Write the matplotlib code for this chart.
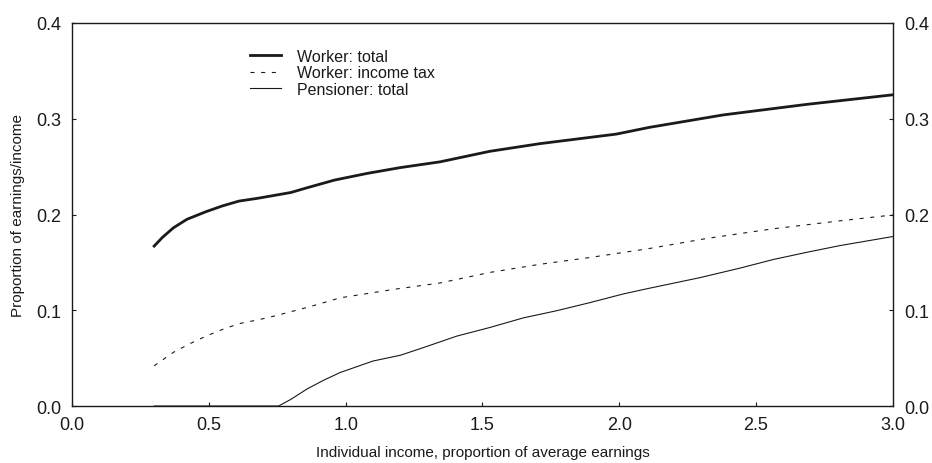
import matplotlib
matplotlib.use("Agg")
import matplotlib.pyplot as plt

plt.rcParams['font.family'] = ['Liberation Sans', 'DejaVu Sans']

# Worker: total burden (proportion of earnings)
worker_total_x = [0.30, 0.33, 0.37, 0.42, 0.49, 0.55, 0.61, 0.68, 0.74, 0.80, 0.86,
                  0.96, 1.08, 1.20, 1.345, 1.527, 1.71, 1.99, 2.11, 2.38, 2.685, 3.00]
worker_total_y = [0.167, 0.176, 0.186, 0.195, 0.203, 0.209, 0.214, 0.217, 0.220, 0.223,
                  0.228, 0.236, 0.243, 0.249, 0.255, 0.266, 0.274, 0.284, 0.291, 0.304,
                  0.315, 0.325]

# Worker: income tax only
worker_tax_x = [0.30, 0.34, 0.37, 0.43, 0.49, 0.55, 0.61, 0.68, 0.74, 0.86, 0.98,
                1.18, 1.345, 1.527, 1.71, 1.89, 2.10, 2.32, 2.56, 2.81, 3.00]
worker_tax_y = [0.042, 0.050, 0.056, 0.065, 0.073, 0.080, 0.086, 0.090, 0.094, 0.103,
                0.113, 0.122, 0.1285, 0.1395, 0.148, 0.155, 0.164, 0.175, 0.185,
                0.1935, 0.1995]

# Pensioner: total burden (proportion of income)
pensioner_x = [0.30, 0.755, 0.80, 0.86, 0.92, 0.98, 1.04, 1.10, 1.20, 1.284, 1.406,
               1.527, 1.649, 1.771, 1.893, 2.014, 2.11, 2.294, 2.441, 2.563, 2.685,
               2.806, 3.00]
pensioner_y = [0.0, 0.0, 0.007, 0.018, 0.027, 0.035, 0.041, 0.047, 0.053, 0.061, 0.073,
               0.082, 0.092, 0.0995, 0.108, 0.117, 0.123, 0.134, 0.144, 0.153, 0.1605,
               0.1675, 0.177]

x_ticks = [0.0, 0.5, 1.0, 1.5, 2.0, 2.5, 3.0]
y_ticks = [0.0, 0.1, 0.2, 0.3, 0.4]

fig = plt.figure(figsize=(9.32, 4.64), dpi=100)
ax = fig.add_axes([0.0773, 0.1228, 0.8807, 0.8255])

ink = '#1a1a1a'
ax.plot(worker_total_x, worker_total_y, color=ink, lw=2.0, label='Worker: total')
ax.plot(worker_tax_x, worker_tax_y, color=ink, lw=0.8,
        linestyle=(0, (3.6, 6.0)), label='Worker: income tax')
ax.plot(pensioner_x, pensioner_y, color=ink, lw=0.8, label='Pensioner: total')

ax.set_xlim(0, 3.0)
ax.set_ylim(0, 0.4)
ax.set_xticks(x_ticks)
ax.set_yticks(y_ticks)
ax.set_xticklabels([f'{v:.1f}' for v in x_ticks])
ax.set_yticklabels([f'{v:.1f}' for v in y_ticks])

ax.tick_params(axis='both', direction='in', length=3, width=0.8, colors=ink,
               labelsize=13)
ax.tick_params(axis='y', left=True, right=True, labelleft=True, labelright=True, pad=8)
ax.tick_params(axis='x', top=False, pad=7)

for s in ax.spines.values():
    s.set_linewidth(1.0)
    s.set_color(ink)

ax.set_xlabel('Individual income, proportion of average earnings', fontsize=11,
              color=ink, labelpad=9)
ax.set_ylabel('Proportion of earnings/income', fontsize=11, color=ink, labelpad=8)

leg = ax.legend(loc='upper left', bbox_to_anchor=(0.203, 0.962), frameon=False,
                fontsize=11.5, handlelength=1.95, handletextpad=1.0,
                labelspacing=0.1, borderpad=0.2)
for t in leg.get_texts():
    t.set_color(ink)

fig.savefig('out.png', dpi=100)
